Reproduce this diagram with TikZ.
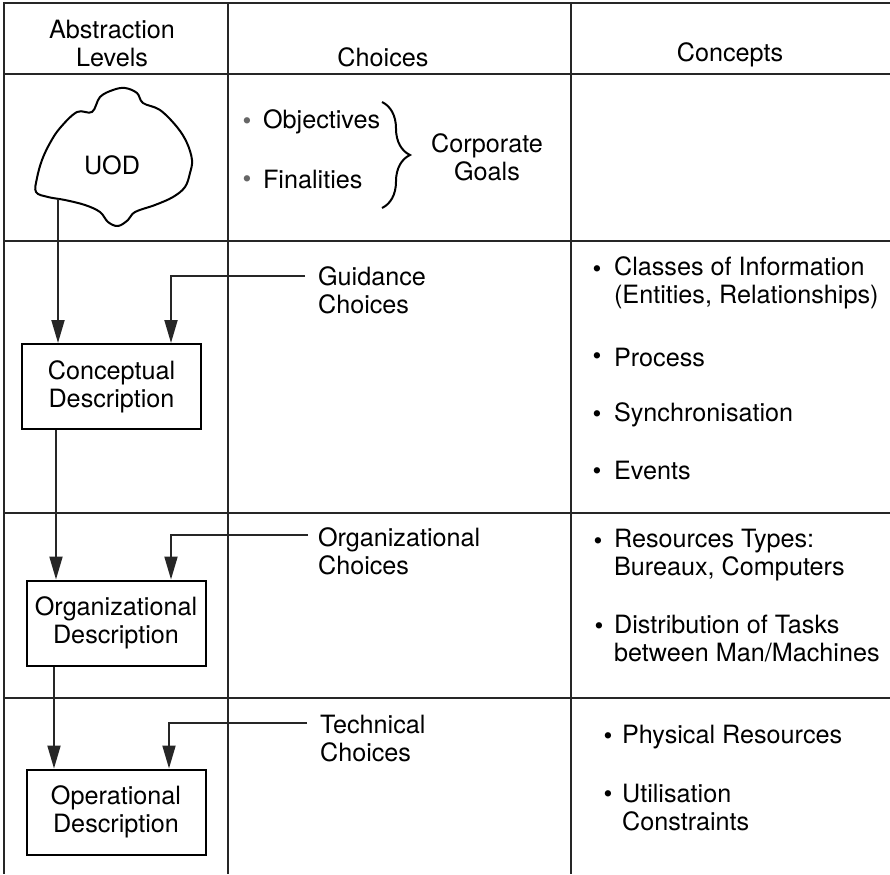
\documentclass[tikz,border=0pt]{standalone}
\usepackage{fontspec}
\setmainfont{TeX Gyre Heros}
\usetikzlibrary{arrows.meta,positioning,calc,decorations.pathreplacing}
\tikzset{
  tabline/.style={line width=1pt, black!85},
  descbox/.style={draw, line width=1pt, minimum width=89.5pt, minimum height=42.5pt, align=center, inner sep=2pt},
  head/.style={align=center},
  choice/.style={anchor=west, align=left},
  concept/.style={anchor=west, align=left},
  bul/.style={inner sep=0pt, yshift=-2pt},
  flow/.style={->, line width=1pt, black!85}
}

\begin{document}
\begin{tikzpicture}[>={Triangle[length=11.5pt,width=6.5pt]}, x=0.5pt, y=-0.5pt, font=\fontsize{12.6}{14}\selectfont]
  \useasboundingbox (0,0) rectangle (890,874);
  % table rules
  \draw[tabline] (890,3) -- (4,3) -- (4,874);
  \draw[tabline] (228,3) -- (228,874);
  \draw[tabline] (571,3) -- (571,874);
  \foreach \y in {74,241,513,698}
    \draw[tabline] (4,\y) -- (890,\y);
  % headings
  \node[head] (hlev) at (112,43) {Abstraction\\Levels};
  \node[head] (hcho) at (383,57) {Choices};
  \node[head] (hcon) at (730,55) {Concepts};
  % universe of discourse
  \draw[line width=1pt] plot[smooth cycle, tension=0.6] coordinates {
    (92,112) (100,97) (113,90) (125,88) (137,93) (143,103)
    (160,110) (177,127) (187,143) (192,160) (190,173) (185,187) (173,197)
    (155,205) (135,212) (128,220) (118,226) (108,222)
    (100,212) (85,205) (65,200) (48,197) (36,192)
    (37,178) (42,160) (50,143) (60,128) (77,112)};
  \node (uod) at (112,165) {UOD};
  \coordinate (uodfoot) at (58,199);
  % corporate goals
  \node[bul, black!60] (bobj) at (247,120) {\textbullet};
  \node[choice] (obj) at (256,122) {Objectives};
  \node[bul, black!60] (bfin) at (247,178) {\textbullet};
  \node[choice] (fin) at (256,179) {Finalities};
  \coordinate (brtop) at (382,102);
  \coordinate (brbot) at (382,208);
  \draw[line width=1pt, decorate, decoration={brace, amplitude=14pt}] (brtop) -- (brbot);
  \node[head] (goals) at (487,157) {Corporate\\Goals};
  % descriptions
  \node[descbox] (cdesc) at (111.5,386.5) {Conceptual\\Description};
  \node[descbox] (odesc) at (116,623) {Organizational\\Description};
  \node[descbox] (pdesc) at (116,812) {Operational\\Description};
  % choices
  \node[choice] (guid) at (311,290) {Guidance\\Choices};
  \node[choice] (orgc) at (311,551) {Organizational\\Choices};
  \node[choice] (tech) at (313,739) {Technical\\Choices};
  \coordinate (gstart) at (305,276);
  \coordinate (ostart) at (308,535);
  \coordinate (tstart) at (307,723);
  % flows
  \draw[flow] (uodfoot) -- (uodfoot |- cdesc.north);
  \draw[flow] (gstart) -| ($(cdesc.north)+(59.5,0)$);
  \coordinate (cfoot) at ($(cdesc.south)+(-55.5,0)$);
  \draw[flow] (cfoot) -- (cfoot |- odesc.north);
  \draw[flow] (ostart) -| ($(odesc.north)+(55,0)$);
  \coordinate (ofoot) at ($(odesc.south)+(-62,0)$);
  \draw[flow] (ofoot) -- (ofoot |- pdesc.north);
  \draw[flow] (tstart) -| ($(pdesc.north)+(53,0)$);
  % concepts
  \node[bul] (b1) at (597,268) {\textbullet};
  \node[concept] (cls) at (607,283) {Classes of Information\\(Entities, Relationships)};
  \node[bul] (b2) at (597,355) {\textbullet};
  \node[concept] (proc) at (607,357) {Process};
  \node[bul] (b3) at (597,413) {\textbullet};
  \node[concept] (sync) at (607,415) {Synchronisation};
  \node[bul] (b4) at (597,470) {\textbullet};
  \node[concept] (evt) at (607,470) {Events};
  \node[bul] (b5) at (598,540) {\textbullet};
  \node[concept] (res) at (607,555) {Resources Types:\\Bureaux, Computers};
  \node[bul] (b6) at (599,625) {\textbullet};
  \node[concept] (dist) at (607,639) {Distribution of Tasks\\between Man/Machines};
  \node[bul] (b7) at (608,735) {\textbullet};
  \node[concept] (phys) at (615,737) {Physical Resources};
  \node[bul] (b8) at (608,793) {\textbullet};
  \node[concept] (util) at (615,808) {Utilisation\\Constraints};
\end{tikzpicture}
\end{document}
